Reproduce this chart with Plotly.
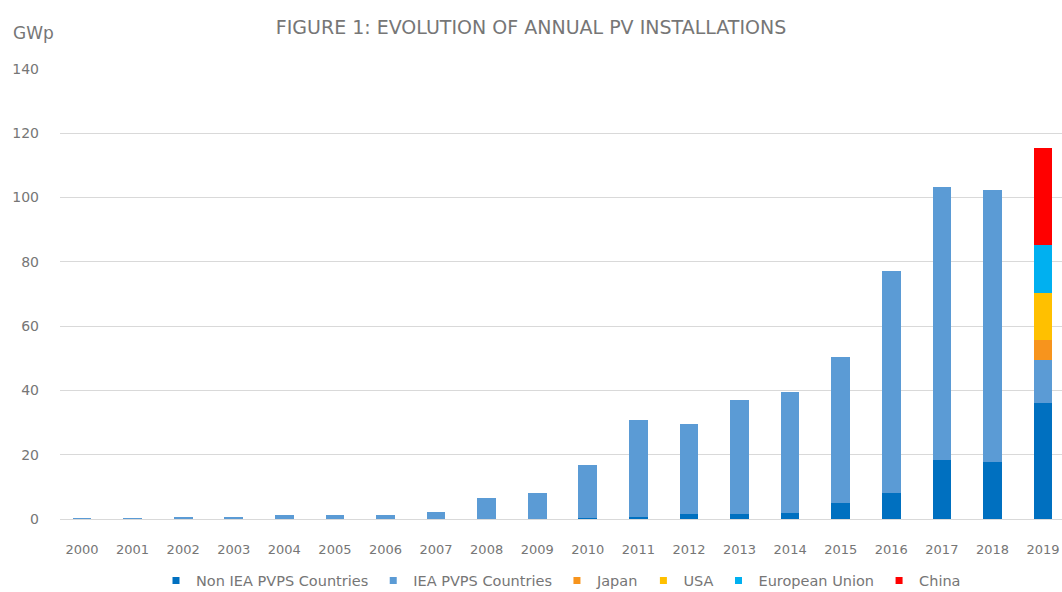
import plotly.graph_objects as go

years = [str(y) for y in range(2000, 2020)]
non_iea = [0.0, 0.0, 0.0, 0.0, 0.0, 0.0, 0.0, 0.0, 0.1, 0.1, 0.3, 0.7, 1.5, 1.6, 1.9, 5.0, 8.1, 18.3, 17.8, 36.1]
iea = [0.25, 0.3, 0.4, 0.5, 1.1, 1.3, 1.4, 2.3, 6.4, 8.0, 16.5, 30.1, 28.1, 35.4, 37.7, 45.4, 69.1, 85.0, 84.6, 13.4]
japan = [0]*19 + [6.2]
usa = [0]*19 + [14.6]
eu = [0]*19 + [14.9]
china = [0]*19 + [30.2]

series = [
    ("Non IEA PVPS Countries", non_iea, "#0070C0"),
    ("IEA PVPS Countries", iea, "#5B9BD5"),
    ("Japan", japan, "#F7941D"),
    ("USA", usa, "#FFC000"),
    ("European Union", eu, "#00B0F0"),
    ("China", china, "#FF0000"),
]

FONT = "DejaVu Sans, sans-serif"
GREY = "#767676"

fig = go.Figure()
xs = list(range(len(years)))
for name, vals, col in series:
    fig.add_trace(go.Bar(x=xs, y=vals, name=name, marker_color=col,
                         marker_line_width=0, width=0.37, showlegend=False,
                         legendgroup=name))
for name, vals, col in series:
    fig.add_trace(go.Scatter(x=[None], y=[None], mode="markers", name=name,
                             marker=dict(symbol="square", size=7, color=col),
                             legendgroup=name, showlegend=True))

fig.update_layout(
    barmode="stack",
    width=1062, height=592,
    margin=dict(l=60, r=0, t=69, b=73, autoexpand=False),
    plot_bgcolor="white", paper_bgcolor="white",
    font=dict(family=FONT, color=GREY, size=13),
    title=dict(text="FIGURE 1: EVOLUTION OF ANNUAL PV INSTALLATIONS", x=0.5, xanchor="center",
               y=0.953, yanchor="middle", font=dict(size=19, color=GREY, family=FONT)),
    xaxis=dict(tickmode="array", tickvals=xs, ticktext=years,
               range=[-0.435, 19.375], showgrid=False, showline=True, linecolor="#D9D9D9",
               ticks="", ticklabelstandoff=18, tickfont=dict(size=13, color=GREY)),
    yaxis=dict(range=[0, 140], dtick=20, showgrid=True, gridcolor="#D9D9D9", zeroline=False,
               ticks="", ticklabelstandoff=20, tickfont=dict(size=14, color=GREY)),
    legend=dict(orientation="h", x=0.5, xanchor="center", y=-0.137, yanchor="middle",
                font=dict(size=14.5, color=GREY), traceorder="normal",
                itemwidth=30, tracegroupgap=0),
    bargap=0.6,
)
fig.add_annotation(text="GWp", xref="paper", yref="paper", x=-0.049, y=1.08,
                   xanchor="left", yanchor="middle", showarrow=False,
                   font=dict(size=17, color=GREY))
fig.write_html("out.html", config={"displayModeBar": False},
               post_script="document.body.style.margin='0';document.body.style.overflow='hidden';")
